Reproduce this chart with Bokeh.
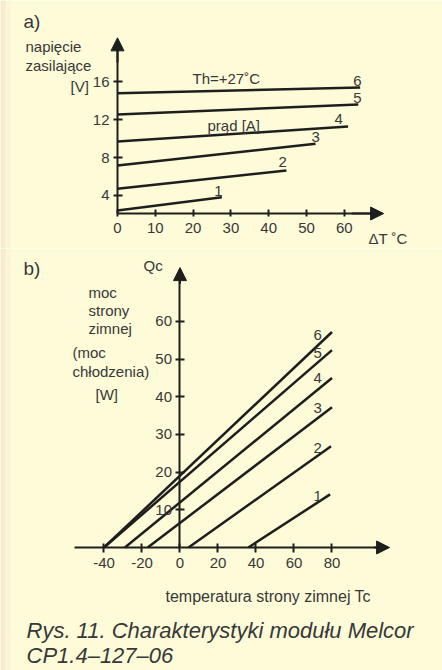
from bokeh.plotting import figure
from bokeh.models import Label, Arrow, NormalHead, FixedTicker, ColumnDataSource, BoxAnnotation
from bokeh.layouts import column
from bokeh.embed import file_html
from bokeh.resources import INLINE
from bokeh.core.properties import value

# ---------------- chart a) : supply voltage vs delta T ----------------
a_series = ["1", "2", "3", "4", "5", "6"]
a_dt_start = [0, 0, 0, 0, 0, 0]
a_dt_end = [27.6, 44.7, 52.4, 61.0, 63.7, 64.2]
a_v_start = [2.42, 4.70, 7.16, 9.68, 12.53, 14.77]
a_v_end = [3.82, 6.63, 9.44, 11.26, 13.58, 15.37]
a_label_dt = [26.7, 43.7, 52.4, 58.5, 63.5, 63.5]
a_label_v = [4.5, 7.5, 10.2, 12.1, 14.3, 16.1]
a_xticks = [0, 10, 20, 30, 40, 50, 60]
a_yticks = [4, 8, 12, 16]

# ---------------- chart b) : cooling power vs cold side temperature ----------------
b_series = ["1", "2", "3", "4", "5", "6"]
b_tc_start = [36, 4.5, -17, -29, -40, -40]
b_tc_end = [79, 79.5, 80, 80, 80, 80]
b_q_start = [0, 0, 0, 0, 0, 0]
b_q_end = [14.1, 26.9, 37.2, 45.0, 52.4, 57.2]
b_label_tc = [72.4, 72.4, 72.4, 72.4, 72.4, 72.4]
b_label_q = [13.8, 26.5, 36.9, 44.9, 51.5, 56.5]
b_xticks = [-40, -20, 0, 20, 40, 60, 80]
b_yticks = [10, 20, 30, 40, 50, 60]

BG = "#fefbd9"
INK = "#1e1e1e"
TXT = "#383838"
FONT = "Liberation Sans"
W = 442


def base_fig(h, xr, yr):
    p = figure(width=W, height=h, x_range=xr, y_range=yr,
               output_backend="svg", toolbar_location=None,
               min_border=0, min_border_left=0, min_border_right=0,
               min_border_top=0, min_border_bottom=0)
    p.background_fill_color = BG
    p.border_fill_color = BG
    p.outline_line_color = None
    p.grid.visible = False
    for ax in p.axis:
        ax.axis_line_color = INK
        ax.axis_line_width = 2
        ax.major_tick_line_color = INK
        ax.major_tick_line_width = 2
        ax.minor_tick_line_color = None
        ax.major_label_text_font = FONT
        ax.major_label_text_font_size = "15px"
        ax.major_label_text_color = TXT
    # soft peach edge on the left of the page
    p.add_layout(BoxAnnotation(left=0, right=5, left_units="screen", right_units="screen",
                               fill_color="#f3d9bf", fill_alpha=0.45, line_color=None))
    p.add_layout(BoxAnnotation(left=5, right=10, left_units="screen", right_units="screen",
                               fill_color="#f3d9bf", fill_alpha=0.18, line_color=None))
    return p


def put(p, bottom, px, py, text, size="15px", align="left", baseline="alphabetic", italic=False):
    p.add_layout(Label(x=px, y=bottom - py, x_units="screen", y_units="screen",
                       text=text, text_font=FONT, text_font_size=size,
                       text_color=TXT, text_align=align, text_baseline=baseline,
                       text_font_style="italic" if italic else "normal"))


# ---------- figure a ----------
A_BOT = 248
pa = base_fig(A_BOT, (-30.95, 85.98), (-1.58, 24.53))
src_a = ColumnDataSource(dict(x0=a_dt_start, y0=a_v_start, x1=a_dt_end, y1=a_v_end))
pa.segment("x0", "y0", "x1", "y1", source=src_a, line_color=INK, line_width=2.5)
lab_a = ColumnDataSource(dict(x=a_label_dt, y=a_label_v, t=a_series))
pa.text("x", "y", text="t", source=lab_a, text_font=value(FONT), text_font_size="15px",
        text_color=TXT, text_align="center", text_baseline="middle")

pa.xaxis.fixed_location = 2.1
pa.xaxis.bounds = (0, 70)
pa.xaxis.ticker = FixedTicker(ticks=a_xticks)
pa.xaxis.major_tick_in = 4
pa.xaxis.major_tick_out = 3
pa.xaxis.major_label_standoff = 6
pa.yaxis.fixed_location = 0
pa.yaxis.bounds = (2.1, 20)
pa.yaxis.ticker = FixedTicker(ticks=a_yticks)
pa.yaxis.major_tick_in = 5
pa.yaxis.major_tick_out = 4
pa.yaxis.major_label_standoff = 4

pa.add_layout(Arrow(end=NormalHead(size=13, fill_color=INK, line_color=INK),
                    x_start=62, y_start=2.1, x_end=70.4, y_end=2.1,
                    line_color=INK, line_width=2))
pa.add_layout(Arrow(end=NormalHead(size=13, fill_color=INK, line_color=INK),
                    x_start=0, y_start=18, x_end=0, y_end=20.6,
                    line_color=INK, line_width=2))

put(pa, A_BOT, 23, 21, "a)", size="19px", baseline="middle")
put(pa, A_BOT, 25, 46, "napięcie")
put(pa, A_BOT, 25, 65, "zasilające")
put(pa, A_BOT, 70, 86, "[V]")
put(pa, A_BOT, 192, 78, "Th=+27˚C")
put(pa, A_BOT, 207, 125, "prąd [A]")
put(pa, A_BOT, 368, 238, "ΔT ˚C", baseline="middle")

# ---------- figure b ----------
B_BOT = 670 - A_BOT
pb = base_fig(B_BOT, (-94.47, 138.16), (-32.65, 79.37))
src_b = ColumnDataSource(dict(x0=b_tc_start, y0=b_q_start, x1=b_tc_end, y1=b_q_end))
pb.segment("x0", "y0", "x1", "y1", source=src_b, line_color=INK, line_width=2.5)
lab_b = ColumnDataSource(dict(x=b_label_tc, y=b_label_q, t=b_series))
pb.text("x", "y", text="t", source=lab_b, text_font=value(FONT), text_font_size="15px",
        text_color=TXT, text_align="center", text_baseline="middle")

pb.xaxis.fixed_location = 0
pb.xaxis.bounds = (-55.5, 108)
pb.xaxis.ticker = FixedTicker(ticks=b_xticks)
pb.xaxis.major_label_overrides = {-40: "-40", -20: "-20"}
pb.xaxis.major_tick_in = 4
pb.xaxis.major_tick_out = 5
pb.xaxis.major_label_standoff = 5
pb.yaxis.fixed_location = 0
pb.yaxis.bounds = (0, 72)
pb.yaxis.ticker = FixedTicker(ticks=b_yticks)
pb.yaxis.major_tick_in = 5
pb.yaxis.major_tick_out = 4
pb.yaxis.major_label_standoff = 4

pb.add_layout(Arrow(end=NormalHead(size=13, fill_color=INK, line_color=INK),
                    x_start=102, y_start=0, x_end=110.3, y_end=0,
                    line_color=INK, line_width=2))
pb.add_layout(Arrow(end=NormalHead(size=13, fill_color=INK, line_color=INK),
                    x_start=0, y_start=70, x_end=0, y_end=74.3,
                    line_color=INK, line_width=2))

# page y coordinates below are measured from the top of the page; figure b starts at A_BOT
PB = 670
put(pb, PB, 23, 268, "b)", size="19px", baseline="middle")
put(pb, PB, 143, 265, "Qc")
put(pb, PB, 88, 292, "moc")
put(pb, PB, 88, 310, "strony")
put(pb, PB, 88, 328, "zimnej")
put(pb, PB, 72, 352, "(moc")
put(pb, PB, 72, 371, "chłodzenia)")
put(pb, PB, 95, 394, "[W]")
put(pb, PB, 165, 596, "temperatura strony zimnej Tc", size="16px")
put(pb, PB, 26, 630, "Rys. 11. Charakterystyki modułu Melcor", size="22px", italic=True)
put(pb, PB, 26, 655, "CP1.4–127–06", size="22px", italic=True)

layout = column(pa, pb, spacing=0)
open("out.html", "w").write(file_html(layout, INLINE))
